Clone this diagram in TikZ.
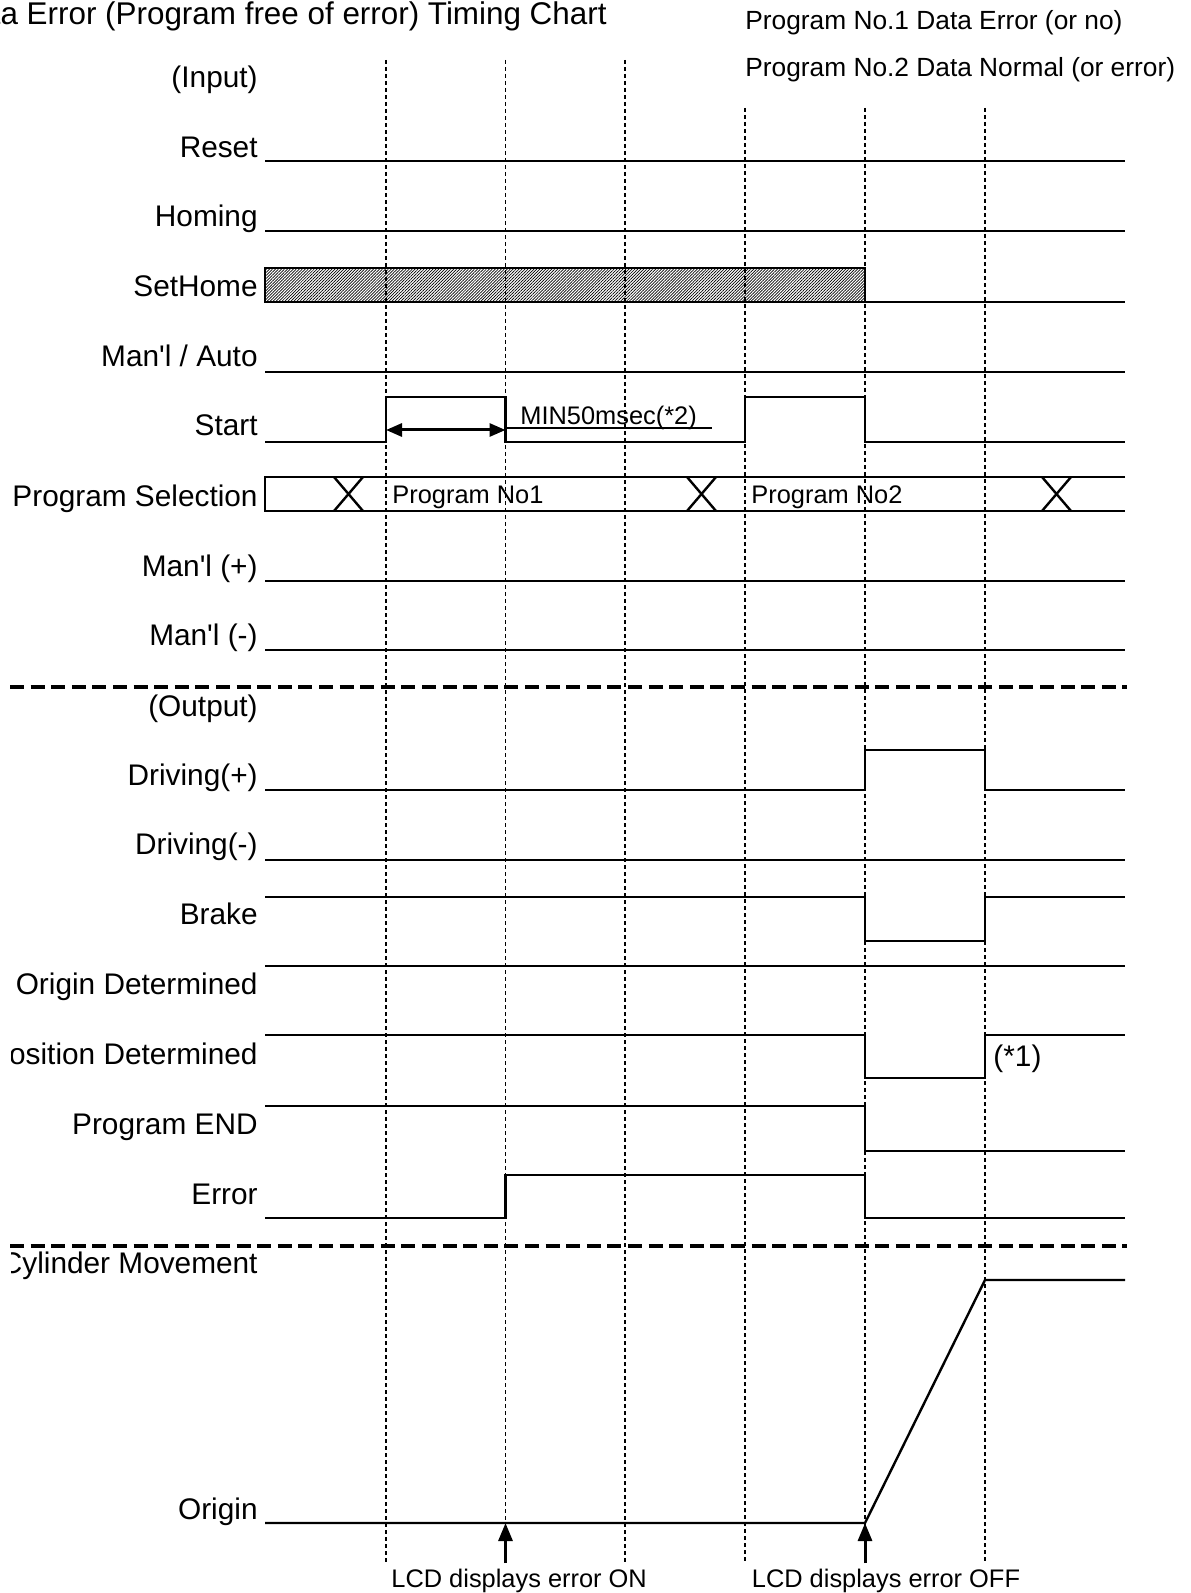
\documentclass[tikz,border=0pt]{standalone}
\usepackage{fontspec}
\setmainfont{Liberation Sans}
\usepackage{tikz}
\usetikzlibrary{arrows.meta,patterns.meta}

% edge times (dashed guides)
\newcommand{\edgeA}{386}
\newcommand{\edgeB}{505.5}
\newcommand{\edgeC}{625}
\newcommand{\edgeD}{745}
\newcommand{\edgeE}{865}
\newcommand{\edgeF}{985}
\newcommand{\lineL}{265}
\newcommand{\lineR}{1125}

\newcommand{\lblfont}{\fontsize{14.9pt}{17pt}\selectfont}
\newcommand{\notefont}{\fontsize{12.7pt}{15pt}\selectfont}
\newcommand{\headfont}{\fontsize{13.15pt}{15pt}\selectfont}
\newcommand{\titlefont}{\fontsize{15.7pt}{18pt}\selectfont}

\begin{document}
\begin{tikzpicture}[x=0.5pt,y=-0.5pt]

\tikzset{
  siglabel/.style={font=\lblfont, anchor=base east, inner sep=0pt},
  note/.style={font=\notefont, anchor=base west, inner sep=0pt},
  signal/.style={black, line width=1.2pt},
  guide/.style={black, line width=0.95pt, dash pattern=on 2.2pt off 1.3pt},
  divider/.style={black, line width=2pt, dash pattern=on 7pt off 3.3pt},
  span/.style={black, line width=1.5pt,
               {Triangle[length=8pt,width=6.5pt]}-{Triangle[length=8pt,width=6.5pt]}},
  pointer/.style={black, line width=1.5pt, -{Triangle[length=9pt,width=7pt]}},
  hatch/.style={pattern={Lines[angle=45,distance=1.05pt,line width=0.35pt]}}
}

\useasboundingbox (0,0) rectangle (1190,1593);

% Title and header
\node[font=\titlefont, anchor=base east, inner sep=0pt] (title) at (607,25)
  {Data Error (Program free of error) Timing Chart};
\node[font=\headfont, anchor=base west, inner sep=0pt] (prog1) at (745,30)
  {Program No.1 Data Error (or no)};
\node[font=\headfont, anchor=base west, inner sep=0pt] (prog2) at (745,77)
  {Program No.2 Data Normal (or error)};

% Guides
\foreach \t in {\edgeA,\edgeB,\edgeC}
  \draw[guide] (\t,60) -- (\t,1562);
\foreach \t in {\edgeD,\edgeE,\edgeF}
  \draw[guide] (\t,108) -- (\t,1562);

% Signal names
\begin{scope}
\clip (11,40) rectangle (1190,1593);
\node[siglabel] (input)   at (258,88)   {(Input)};
\node[siglabel] (reset)   at (258,158)  {Reset};
\node[siglabel] (homing)  at (258,227)  {Homing};
\node[siglabel] (sethome) at (258,297)  {SetHome};
\node[siglabel] (manauto) at (258,367)  {Man\textquotesingle l / Auto};
\node[siglabel] (start)   at (258,436)  {Start};
\node[siglabel] (progsel) at (258,506)  {Program Selection};
\node[siglabel] (manplus) at (258,576)  {Man\textquotesingle l (+)};
\node[siglabel] (manminus) at (258,645) {Man\textquotesingle l (-)};
\node[siglabel] (output)  at (258,716)  {(Output)};
\node[siglabel] (drvplus) at (258,785)  {Driving(+)};
\node[siglabel] (drvminus) at (258,854) {Driving(-)};
\node[siglabel] (brake)   at (258,924)  {Brake};
\node[siglabel] (origdet) at (258,994)  {Origin Determined};
\node[siglabel] (posdet)  at (258,1064) {Position Determined};
\node[siglabel] (progend) at (258,1134) {Program END};
\node[siglabel] (error)   at (258,1204) {Error};
\node[siglabel] (cylmove) at (258,1273) {Cylinder Movement};
\node[siglabel] (origin)  at (258,1519) {Origin};
\end{scope}

% Inputs
\draw[signal] (\lineL,161) -- (\lineR,161);
\draw[signal] (\lineL,231) -- (\lineR,231);
\draw[signal, hatch] (\lineL,268) rectangle (\edgeE,302);
\draw[signal] (\edgeE,302) -- (\lineR,302);
\draw[signal] (\lineL,372) -- (\lineR,372);
\draw[signal] (\lineL,442) -- (\edgeA,442) -- (\edgeA,397) -- (\edgeB,397) -- (\edgeB,442)
  -- (\edgeD,442) -- (\edgeD,397) -- (\edgeE,397) -- (\edgeE,442) -- (\lineR,442);
\draw[signal] (\lineR,477) -- (\lineL,477) -- (\lineL,511) -- (\lineR,511);
\foreach \c in {348.5,701.5,1056.5}
  \draw[signal] (\c-14.5,477) -- (\c+14.5,511) (\c-14.5,511) -- (\c+14.5,477);
\draw[signal] (\lineL,581) -- (\lineR,581);
\draw[signal] (\lineL,650) -- (\lineR,650);

\draw[span] (\edgeA,430) -- (\edgeB,430);
\node[note] (minpulse) at (520,424) {MIN50msec(*2)};
\draw[black, line width=0.7pt] (\edgeB,428) -- (712,428);
\node[note] (prgno1) at (392,503) {Program No1};
\node[note] (prgno2) at (751,503) {Program No2};

\draw[divider] (10,687) -- (1127,687);

% Outputs
\draw[signal] (\lineL,790) -- (\edgeE,790) -- (\edgeE,750) -- (\edgeF,750) -- (\edgeF,790) -- (\lineR,790);
\draw[signal] (\lineL,860) -- (\lineR,860);
\draw[signal] (\lineL,897) -- (\edgeE,897) -- (\edgeE,941) -- (\edgeF,941) -- (\edgeF,897) -- (\lineR,897);
\draw[signal] (\lineL,966) -- (\lineR,966);
\draw[signal] (\lineL,1035) -- (\edgeE,1035) -- (\edgeE,1078) -- (\edgeF,1078) -- (\edgeF,1035) -- (\lineR,1035);
\node[siglabel, anchor=base west] (note1) at (993,1066) {(*1)};
\draw[signal] (\lineL,1106) -- (\edgeE,1106) -- (\edgeE,1151) -- (\lineR,1151);
\draw[signal] (\lineL,1218) -- (\edgeB,1218) -- (\edgeB,1175) -- (\edgeE,1175) -- (\edgeE,1218) -- (\lineR,1218);

\draw[divider] (10,1246) -- (1127,1246);

% Cylinder
\coordinate (errOn) at (\edgeB,1523);
\coordinate (errOff) at (\edgeE,1523);
\coordinate (stroke) at (\edgeF,1280);
\draw[signal] (\lineL,1523) -- (errOff) -- (stroke) -- (\lineR,1280);

\node[note] (lcdon)  at (391,1587)   {LCD displays error ON};
\node[note] (lcdoff) at (751.5,1587) {LCD displays error OFF};
\draw[pointer] (\edgeB,1563) -- (errOn);
\draw[pointer] (\edgeE,1563) -- (errOff);

\end{tikzpicture}
\end{document}
